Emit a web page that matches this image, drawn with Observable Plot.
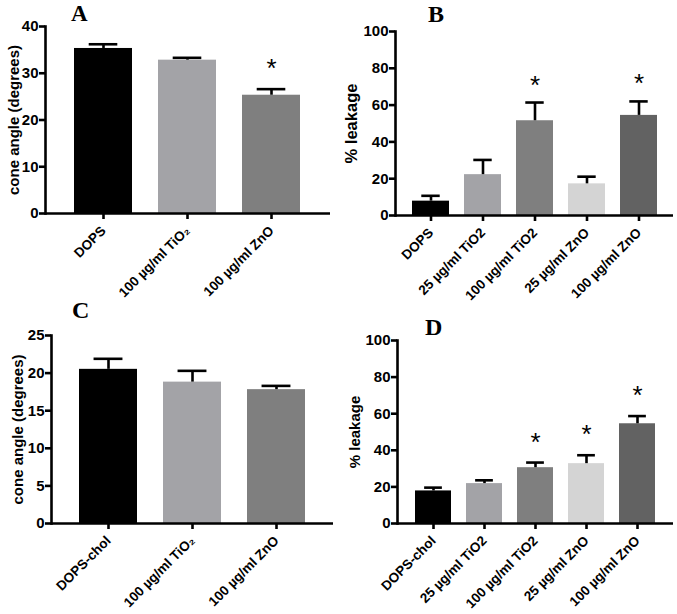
<!DOCTYPE html>
<html>
<head>
<meta charset="utf-8">
<script src="https://cdn.jsdelivr.net/npm/d3@7"></script>
<script src="https://cdn.jsdelivr.net/npm/@observablehq/plot@0.6"></script>
<style>
  html, body { margin: 0; padding: 0; background: #fff; }
  #wrap { position: relative; width: 677px; height: 614px; overflow: hidden; background: #fff; }
  .panel { position: absolute; }
  .panel text { font-family: "Liberation Sans", Arial, sans-serif !important; }
  #letters { position: absolute; left: 0; top: 0; pointer-events: none; }
  #letters text { font-family: "Liberation Serif", "Times New Roman", serif; font-weight: bold; fill: #000; }
</style>
</head>
<body>
<div id="wrap"></div>
<script>
// ---------- data ----------
const catsA = ["DOPS", "100 µg/ml TiO₂", "100 µg/ml ZnO"];
const meanA = [35.3, 32.8, 25.3];
const semA  = [0.9, 0.5, 1.3];
const sigA  = [false, false, true];

const catsB = ["DOPS", "25 µg/ml TiO2", "100 µg/ml TiO2", "25 µg/ml ZnO", "100 µg/ml ZnO"];
const meanB = [7.8, 22.2, 51.5, 17.2, 54.4];
const semB  = [2.9, 8.0, 9.9, 3.9, 7.6];
const sigB  = [false, false, true, false, true];

const catsC = ["DOPS-chol", "100 µg/ml TiO₂", "100 µg/ml ZnO"];
const meanC = [20.5, 18.8, 17.8];
const semC  = [1.4, 1.5, 0.5];
const sigC  = [false, false, false];

const catsD = ["DOPS-chol", "25 µg/ml TiO2", "100 µg/ml TiO2", "25 µg/ml ZnO", "100 µg/ml ZnO"];
const meanD = [17.8, 21.8, 30.5, 32.7, 54.5];
const semD  = [1.8, 1.8, 2.8, 4.6, 4.2];
const sigD  = [false, false, true, true, true];

const ticksA = [0, 10, 20, 30, 40];
const ticksB = [0, 20, 40, 60, 80, 100];
const ticksC = [0, 5, 10, 15, 20, 25];
const ticksD = [0, 20, 40, 60, 80, 100];

const yTitleCone = "cone angle (degrees)";
const yTitleLeak = "% leakage";
const panelLetters = ["A", "B", "C", "D"];

const colors3 = ["#000000", "#a3a3a7", "#7f7f7f"];
const colors5 = ["#000000", "#a3a3a7", "#7f7f7f", "#d4d4d4", "#626262"];

// ---------- drawing ----------
const SW = 2.6;
const FF = "Liberation Sans";
function panel(cfg) {
  const rows = cfg.cats.map((c, i) => ({
    cat: c, mean: cfg.mean[i], top: cfg.mean[i] + cfg.sem[i],
    color: cfg.colors[i], sig: cfg.sig[i]
  }));
  const bw = (cfg.width - cfg.ml - cfg.mr) / (cfg.cats.length - cfg.pi + 2 * cfg.po) * (1 - cfg.pi);
  const capInset = bw * 0.25;
  const chart = Plot.plot({
    width: cfg.width, height: cfg.height,
    marginLeft: cfg.ml, marginRight: cfg.mr, marginTop: cfg.mt, marginBottom: cfg.mb,
    style: "font-family: 'Liberation Sans', Arial, sans-serif; font-weight: bold; font-size: 15px; background: transparent; overflow: visible;",
    x: { domain: cfg.cats, paddingInner: cfg.pi, paddingOuter: cfg.po, align: 0.5 },
    y: { domain: [0, cfg.ticks[cfg.ticks.length - 1]] },
    marks: [
      Plot.barY(rows, { x: "cat", y: "mean", fill: "color" }),
      Plot.ruleX(rows, { x: "cat", y1: "mean", y2: "top", stroke: "#000", strokeWidth: SW }),
      Plot.tickY(rows, { x: "cat", y: "top", stroke: "#000", strokeWidth: SW, insetLeft: capInset, insetRight: capInset }),
      Plot.text(rows.filter(d => d.sig), { x: "cat", y: "top", text: () => "*", fontFamily: FF, fontSize: 26, fontWeight: "normal", lineAnchor: "bottom", dy: cfg.starDy }),
      Plot.frame({ anchor: "left", stroke: "#000", strokeWidth: SW }),
      Plot.ruleY([0], { stroke: "#000", strokeWidth: SW }),
      Plot.axisY({ ticks: cfg.ticks, tickSize: 6, tickPadding: 1, strokeWidth: SW, label: null, tickFormat: d3.format("d"), fontFamily: FF, fontSize: 15, fontWeight: "bold" }),
      Plot.axisX({ tickRotate: -45, tickSize: 6, tickPadding: 9, strokeWidth: SW, label: null, fontFamily: FF, fontSize: 13.5, fontWeight: "bold" }),
      Plot.text([cfg.title], { frameAnchor: "left", textAnchor: "middle", rotate: -90, dx: cfg.titleDx, fontFamily: FF, fontSize: cfg.titleSize, fontWeight: "bold" })
    ]
  });
  chart.classList.add("panel");
  chart.style.left = cfg.left + "px";
  chart.style.top = cfg.top + "px";
  document.getElementById("wrap").appendChild(chart);
}

panel({ cats: catsA, mean: meanA, sem: semA, sig: sigA, colors: colors3, ticks: ticksA, title: yTitleCone, titleSize: 15,
  left: 0, top: 0, width: 338, height: 300, ml: 45, mr: 8, mt: 26, mb: 87, pi: 0.306, po: 0.335, starDy: -12, titleDx: -31 });
panel({ cats: catsB, mean: meanB, sem: semB, sig: sigB, colors: colors5, ticks: ticksB, title: yTitleLeak, titleSize: 16.5,
  left: 338, top: 0, width: 339, height: 300, ml: 57, mr: 4, mt: 31, mb: 85, pi: 0.29, po: 0.3, starDy: -9, titleDx: -43.5 });
panel({ cats: catsC, mean: meanC, sem: semC, sig: sigC, colors: colors3, ticks: ticksC, title: yTitleCone, titleSize: 15,
  left: 0, top: 300, width: 338, height: 314, ml: 51, mr: 5, mt: 35, mb: 91, pi: 0.31, po: 0.327, starDy: -12, titleDx: -33.5 });
panel({ cats: catsD, mean: meanD, sem: semD, sig: sigD, colors: colors5, ticks: ticksD, title: yTitleLeak, titleSize: 15,
  left: 338, top: 300, width: 339, height: 314, ml: 59, mr: 4, mt: 40, mb: 91, pi: 0.29, po: 0.33, starDy: -12, titleDx: -42 });

// panel letters
const letterPos = [[71, 21, 23], [428, 22, 24], [72, 318, 24], [425, 335, 24]];
const ns = "http://www.w3.org/2000/svg";
const ov = document.createElementNS(ns, "svg");
ov.setAttribute("id", "letters");
ov.setAttribute("width", 677);
ov.setAttribute("height", 614);
panelLetters.forEach((L, i) => {
  const t = document.createElementNS(ns, "text");
  t.setAttribute("x", letterPos[i][0]);
  t.setAttribute("y", letterPos[i][1]);
  t.setAttribute("font-size", letterPos[i][2]);
  t.textContent = L;
  ov.appendChild(t);
});
document.getElementById("wrap").appendChild(ov);
</script>
</body>
</html>
